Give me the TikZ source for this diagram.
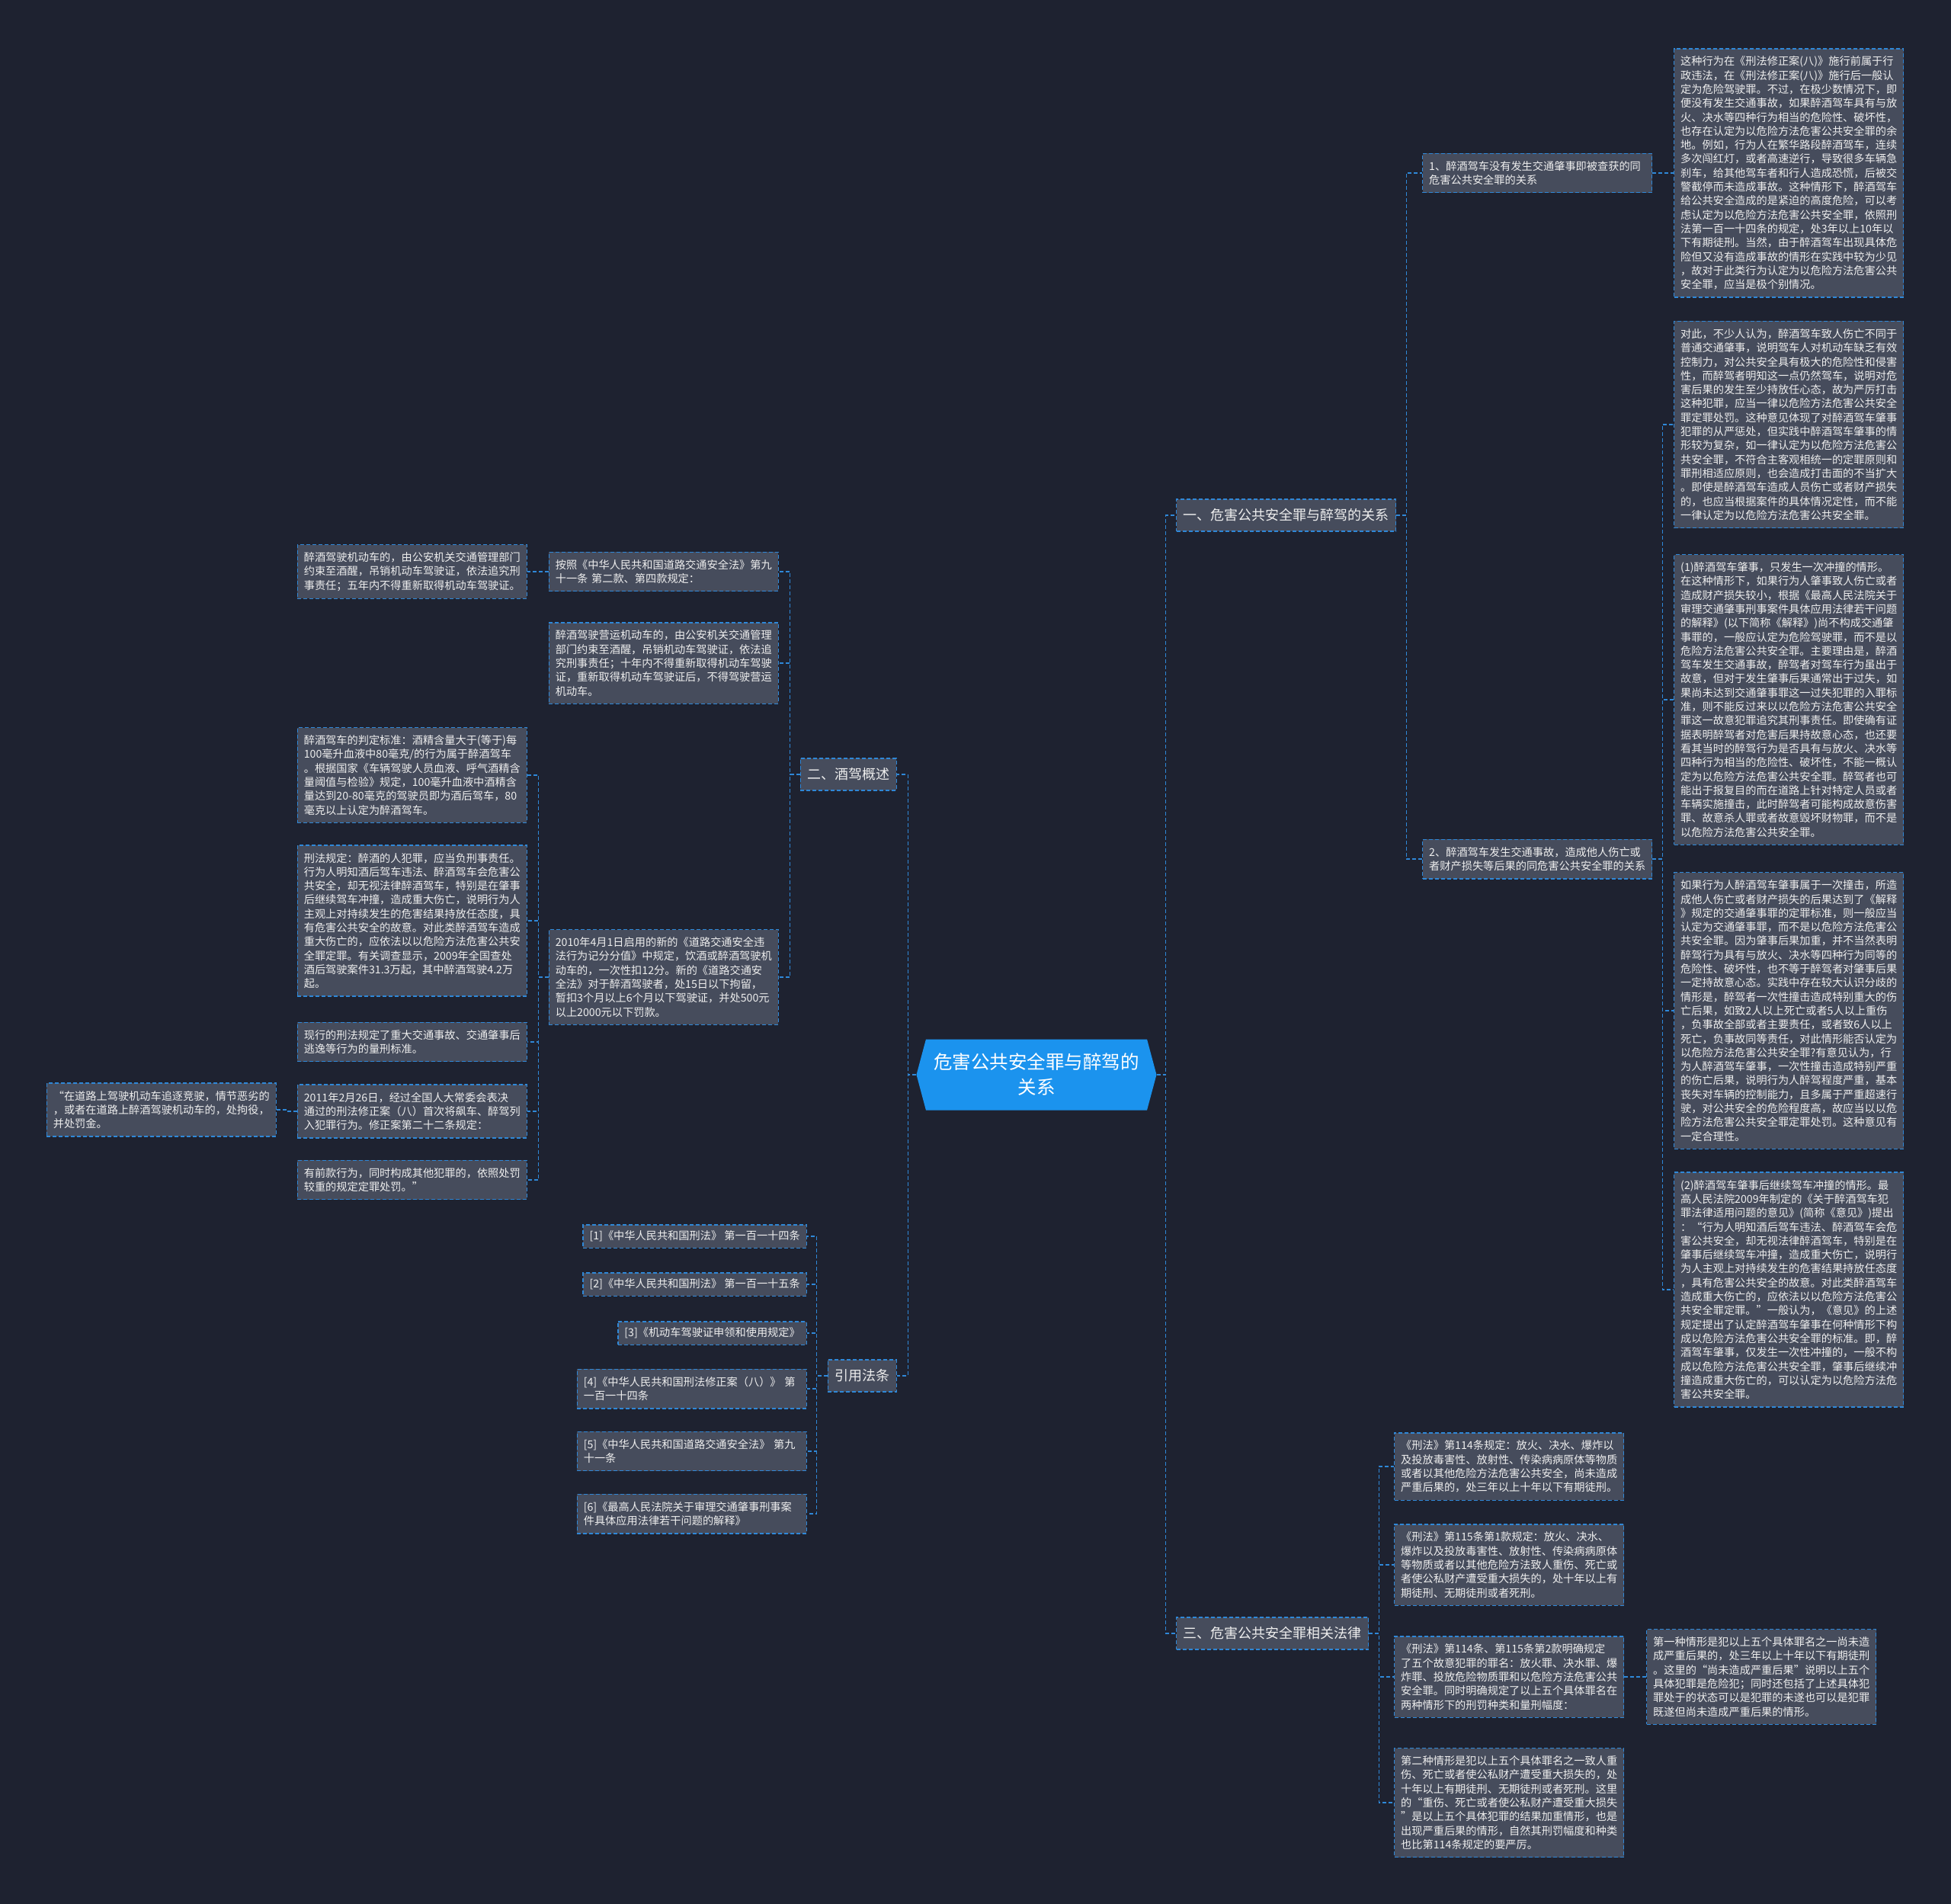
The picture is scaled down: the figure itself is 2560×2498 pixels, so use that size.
\documentclass[tikz,border=0pt]{standalone}
\usepackage{fontspec}
\setmainfont{Noto Sans CJK SC}
\usetikzlibrary{shapes.symbols}
\definecolor{bgcol}{HTML}{1E2230}
\definecolor{cardgrey}{HTML}{464C5C}
\definecolor{lineblue}{HTML}{2F88D8}
\definecolor{rootblue}{HTML}{1B93EE}
\definecolor{txtwhite}{HTML}{EEEEEE}
\begin{document}
\begin{tikzpicture}[x=1pt,y=-1pt,
	link/.style={draw=lineblue,line width=1.4pt,dash pattern=on 5pt off 3pt},
	boxbase/.style={fill=cardgrey,draw=lineblue,line width=1.4pt,dash pattern=on 5pt off 3pt,text=txtwhite,align=left},
	card/.style={boxbase,font=\fontsize{14.2}{18.3}\selectfont,text width=284pt,inner xsep=8.5pt,inner ysep=10pt},
	refcard/.style={boxbase,font=\fontsize{14.2}{18.3}\selectfont,inner xsep=8.5pt,inner ysep=8pt},
	topic/.style={boxbase,font=\fontsize{18}{22}\selectfont,minimum height=42pt,inner xsep=9pt},
	root/.style={signal,signal to=west and east,signal pointer angle=150,fill=rootblue,text=white,font=\fontsize{24.5}{33}\selectfont,align=center,minimum width=315pt,minimum height=93pt,inner sep=0pt}]
	\fill[bgcol](0,0)rectangle(2560,2498);
	\useasboundingbox(0,0)rectangle(2560,2498);
	% root and main topics
	\node[root](root)at(1360,1410){危害公共安全罪与醉驾的\\关系};
	\node[topic,anchor=west](t1)at(1543,676){一、危害公共安全罪与醉驾的关系};
	\node[topic,anchor=west](t3)at(1543,2143){三、危害公共安全罪相关法律};
	\node[topic,anchor=east](t2)at(1177,1016){二、酒驾概述};
	\node[topic,anchor=east](t4)at(1177,1805){引用法条};
	% 一
	\node[card,anchor=west](s1)at(1866,227){1、醉酒驾车没有发生交通肇事即被查获的同\\
		危害公共安全罪的关系};
	\node[card,anchor=west](s2)at(1866,1127){2、醉酒驾车发生交通事故，造成他人伤亡或\\
		者财产损失等后果的同危害公共安全罪的关系};
	\node[card,anchor=west](a1)at(2196,227){这种行为在《刑法修正案(八)》施行前属于行\\
		政违法，在《刑法修正案(八)》施行后一般认\\
		定为危险驾驶罪。不过，在极少数情况下，即\\
		便没有发生交通事故，如果醉酒驾车具有与放\\
		火、决水等四种行为相当的危险性、破坏性，\\
		也存在认定为以危险方法危害公共安全罪的余\\
		地。例如，行为人在繁华路段醉酒驾车，连续\\
		多次闯红灯，或者高速逆行，导致很多车辆急\\
		刹车，给其他驾车者和行人造成恐慌，后被交\\
		警截停而未造成事故。这种情形下，醉酒驾车\\
		给公共安全造成的是紧迫的高度危险，可以考\\
		虑认定为以危险方法危害公共安全罪，依照刑\\
		法第一百一十四条的规定，处3年以上10年以\\
		下有期徒刑。当然，由于醉酒驾车出现具体危\\
		险但又没有造成事故的情形在实践中较为少见\\
		，故对于此类行为认定为以危险方法危害公共\\
		安全罪，应当是极个别情况。};
	\node[card,anchor=west](b1)at(2196,557){对此，不少人认为，醉酒驾车致人伤亡不同于\\
		普通交通肇事，说明驾车人对机动车缺乏有效\\
		控制力，对公共安全具有极大的危险性和侵害\\
		性，而醉驾者明知这一点仍然驾车，说明对危\\
		害后果的发生至少持放任心态，故为严厉打击\\
		这种犯罪，应当一律以危险方法危害公共安全\\
		罪定罪处罚。这种意见体现了对醉酒驾车肇事\\
		犯罪的从严惩处，但实践中醉酒驾车肇事的情\\
		形较为复杂，如一律认定为以危险方法危害公\\
		共安全罪，不符合主客观相统一的定罪原则和\\
		罪刑相适应原则，也会造成打击面的不当扩大\\
		。即使是醉酒驾车造成人员伤亡或者财产损失\\
		的，也应当根据案件的具体情况定性，而不能\\
		一律认定为以危险方法危害公共安全罪。};
	\node[card,anchor=west](b2)at(2196,918){(1)醉酒驾车肇事，只发生一次冲撞的情形。\\
		在这种情形下，如果行为人肇事致人伤亡或者\\
		造成财产损失较小，根据《最高人民法院关于\\
		审理交通肇事刑事案件具体应用法律若干问题\\
		的解释》(以下简称《解释》)尚不构成交通肇\\
		事罪的，一般应认定为危险驾驶罪，而不是以\\
		危险方法危害公共安全罪。主要理由是，醉酒\\
		驾车发生交通事故，醉驾者对驾车行为虽出于\\
		故意，但对于发生肇事后果通常出于过失，如\\
		果尚未达到交通肇事罪这一过失犯罪的入罪标\\
		准，则不能反过来以以危险方法危害公共安全\\
		罪这一故意犯罪追究其刑事责任。即使确有证\\
		据表明醉驾者对危害后果持故意心态，也还要\\
		看其当时的醉驾行为是否具有与放火、决水等\\
		四种行为相当的危险性、破坏性，不能一概认\\
		定为以危险方法危害公共安全罪。醉驾者也可\\
		能出于报复目的而在道路上针对特定人员或者\\
		车辆实施撞击，此时醉驾者可能构成故意伤害\\
		罪、故意杀人罪或者故意毁坏财物罪，而不是\\
		以危险方法危害公共安全罪。};
	\node[card,anchor=west](b3)at(2196,1326){如果行为人醉酒驾车肇事属于一次撞击，所造\\
		成他人伤亡或者财产损失的后果达到了《解释\\
		》规定的交通肇事罪的定罪标准，则一般应当\\
		认定为交通肇事罪，而不是以危险方法危害公\\
		共安全罪。因为肇事后果加重，并不当然表明\\
		醉驾行为具有与放火、决水等四种行为同等的\\
		危险性、破坏性，也不等于醉驾者对肇事后果\\
		一定持故意心态。实践中存在较大认识分歧的\\
		情形是，醉驾者一次性撞击造成特别重大的伤\\
		亡后果，如致2人以上死亡或者5人以上重伤\\
		，负事故全部或者主要责任，或者致6人以上\\
		死亡，负事故同等责任，对此情形能否认定为\\
		以危险方法危害公共安全罪?有意见认为，行\\
		为人醉酒驾车肇事，一次性撞击造成特别严重\\
		的伤亡后果，说明行为人醉驾程度严重，基本\\
		丧失对车辆的控制能力，且多属于严重超速行\\
		驶，对公共安全的危险程度高，故应当以以危\\
		险方法危害公共安全罪定罪处罚。这种意见有\\
		一定合理性。};
	\node[card,anchor=west](b4)at(2196,1692){(2)醉酒驾车肇事后继续驾车冲撞的情形。最\\
		高人民法院2009年制定的《关于醉酒驾车犯\\
		罪法律适用问题的意见》(简称《意见》)提出\\
		：“行为人明知酒后驾车违法、醉酒驾车会危\\
		害公共安全，却无视法律醉酒驾车，特别是在\\
		肇事后继续驾车冲撞，造成重大伤亡，说明行\\
		为人主观上对持续发生的危害结果持放任态度\\
		，具有危害公共安全的故意。对此类醉酒驾车\\
		造成重大伤亡的，应依法以以危险方法危害公\\
		共安全罪定罪。”一般认为，《意见》的上述\\
		规定提出了认定醉酒驾车肇事在何种情形下构\\
		成以危险方法危害公共安全罪的标准。即，醉\\
		酒驾车肇事，仅发生一次性冲撞的，一般不构\\
		成以危险方法危害公共安全罪，肇事后继续冲\\
		撞造成重大伤亡的，可以认定为以危险方法危\\
		害公共安全罪。};
	% 三
	\node[card,anchor=west](f1)at(1829,1924){《刑法》第114条规定：放火、决水、爆炸以\\
		及投放毒害性、放射性、传染病病原体等物质\\
		或者以其他危险方法危害公共安全，尚未造成\\
		严重后果的，处三年以上十年以下有期徒刑。};
	\node[card,anchor=west](f2)at(1829,2053){《刑法》第115条第1款规定：放火、决水、\\
		爆炸以及投放毒害性、放射性、传染病病原体\\
		等物质或者以其他危险方法致人重伤、死亡或\\
		者使公私财产遭受重大损失的，处十年以上有\\
		期徒刑、无期徒刑或者死刑。};
	\node[card,anchor=west](f3)at(1829,2200){《刑法》第114条、第115条第2款明确规定\\
		了五个故意犯罪的罪名：放火罪、决水罪、爆\\
		炸罪、投放危险物质罪和以危险方法危害公共\\
		安全罪。同时明确规定了以上五个具体罪名在\\
		两种情形下的刑罚种类和量刑幅度：};
	\node[card,anchor=west](f3x)at(2160,2200){第一种情形是犯以上五个具体罪名之一尚未造\\
		成严重后果的，处三年以上十年以下有期徒刑\\
		。这里的“尚未造成严重后果”说明以上五个\\
		具体犯罪是危险犯；同时还包括了上述具体犯\\
		罪处于的状态可以是犯罪的未遂也可以是犯罪\\
		既遂但尚未造成严重后果的情形。};
	\node[card,anchor=west](f4)at(1829,2365){第二种情形是犯以上五个具体罪名之一致人重\\
		伤、死亡或者使公私财产遭受重大损失的，处\\
		十年以上有期徒刑、无期徒刑或者死刑。这里\\
		的“重伤、死亡或者使公私财产遭受重大损失\\
		”是以上五个具体犯罪的结果加重情形，也是\\
		出现严重后果的情形，自然其刑罚幅度和种类\\
		也比第114条规定的要严厉。};
	% 二
	\node[card,anchor=east](m1)at(1022,750){按照《中华人民共和国道路交通安全法》第九\\
		十一条 第二款、第四款规定：};
	\node[card,anchor=east](m2)at(1022,870){醉酒驾驶营运机动车的，由公安机关交通管理\\
		部门约束至酒醒，吊销机动车驾驶证，依法追\\
		究刑事责任；十年内不得重新取得机动车驾驶\\
		证，重新取得机动车驾驶证后，不得驾驶营运\\
		机动车。};
	\node[card,anchor=east](m3)at(1022,1282){2010年4月1日启用的新的《道路交通安全违\\
		法行为记分分值》中规定，饮酒或醉酒驾驶机\\
		动车的，一次性扣12分。新的《道路交通安\\
		全法》对于醉酒驾驶者，处15日以下拘留，\\
		暂扣3个月以上6个月以下驾驶证，并处500元\\
		以上2000元以下罚款。};
	\node[card,anchor=east](l1)at(692,750){醉酒驾驶机动车的，由公安机关交通管理部门\\
		约束至酒醒，吊销机动车驾驶证，依法追究刑\\
		事责任；五年内不得重新取得机动车驾驶证。};
	\node[card,anchor=east](l2)at(692,1017){醉酒驾车的判定标准：酒精含量大于(等于)每\\
		100毫升血液中80毫克/的行为属于醉酒驾车\\
		。根据国家《车辆驾驶人员血液、呼气酒精含\\
		量阈值与检验》规定，100毫升血液中酒精含\\
		量达到20-80毫克的驾驶员即为酒后驾车，80\\
		毫克以上认定为醉酒驾车。};
	\node[card,anchor=east](l3)at(692,1208){刑法规定：醉酒的人犯罪，应当负刑事责任。\\
		行为人明知酒后驾车违法、醉酒驾车会危害公\\
		共安全，却无视法律醉酒驾车，特别是在肇事\\
		后继续驾车冲撞，造成重大伤亡，说明行为人\\
		主观上对持续发生的危害结果持放任态度，具\\
		有危害公共安全的故意。对此类醉酒驾车造成\\
		重大伤亡的，应依法以以危险方法危害公共安\\
		全罪定罪。有关调查显示，2009年全国查处\\
		酒后驾驶案件31.3万起，其中醉酒驾驶4.2万\\
		起。};
	\node[card,anchor=east](l4)at(692,1367){现行的刑法规定了重大交通事故、交通肇事后\\
		逃逸等行为的量刑标准。};
	\node[card,anchor=east](l5)at(692,1458){2011年2月26日，经过全国人大常委会表决\\
		通过的刑法修正案（八）首次将飙车、醉驾列\\
		入犯罪行为。修正案第二十二条规定：};
	\node[card,anchor=east](l6)at(692,1548){有前款行为，同时构成其他犯罪的，依照处罚\\
		较重的规定定罪处罚。”};
	\node[card,anchor=east](q1)at(363,1456){“在道路上驾驶机动车追逐竞驶，情节恶劣的\\
		，或者在道路上醉酒驾驶机动车的，处拘役，\\
		并处罚金。};
	% 引用法条
	\node[refcard,anchor=east](r1)at(1059,1622){[1]《中华人民共和国刑法》 第一百一十四条};
	\node[refcard,anchor=east](r2)at(1059,1685){[2]《中华人民共和国刑法》 第一百一十五条};
	\node[refcard,anchor=east](r3)at(1059,1749){[3]《机动车驾驶证申领和使用规定》};
	\node[card,anchor=east](r4)at(1059,1822){[4]《中华人民共和国刑法修正案（八）》 第\\
		一百一十四条};
	\node[card,anchor=east](r5)at(1059,1904){[5]《中华人民共和国道路交通安全法》 第九\\
		十一条};
	\node[card,anchor=east](r6)at(1059,1986){[6]《最高人民法院关于审理交通肇事刑事案\\
		件具体应用法律若干问题的解释》};
	% links
	\foreach \c in {t1,t3}\draw[link](root.east)--++(12,0)|-(\c.west);
	\foreach \c in {t2,t4}\draw[link](root.west)--++(-11,0)|-(\c.east);
	\foreach \c in {s1,s2}\draw[link](t1.east)--++(13,0)|-(\c.west);
	\draw[link](s1.east)--++(13,0)|-(a1.west);
	\foreach \c in {b1,b2,b3,b4}\draw[link](s2.east)--++(13,0)|-(\c.west);
	\foreach \c in {f1,f2,f3,f4}\draw[link](t3.east)--++(13,0)|-(\c.west);
	\draw[link](f3.east)--++(14,0)|-(f3x.west);
	\foreach \c in {m1,m2,m3}\draw[link](t2.west)--++(-13,0)|-(\c.east);
	\draw[link](m1.west)--++(-13,0)|-(l1.east);
	\foreach \c in {l2,l3,l4,l5,l6}\draw[link](m3.west)--++(-13,0)|-(\c.east);
	\draw[link](l5.west)--++(-13,0)|-(q1.east);
	\foreach \c in {r1,r2,r3,r4,r5,r6}\draw[link](t4.west)--++(-14,0)|-(\c.east);
\end{tikzpicture}
\end{document}
